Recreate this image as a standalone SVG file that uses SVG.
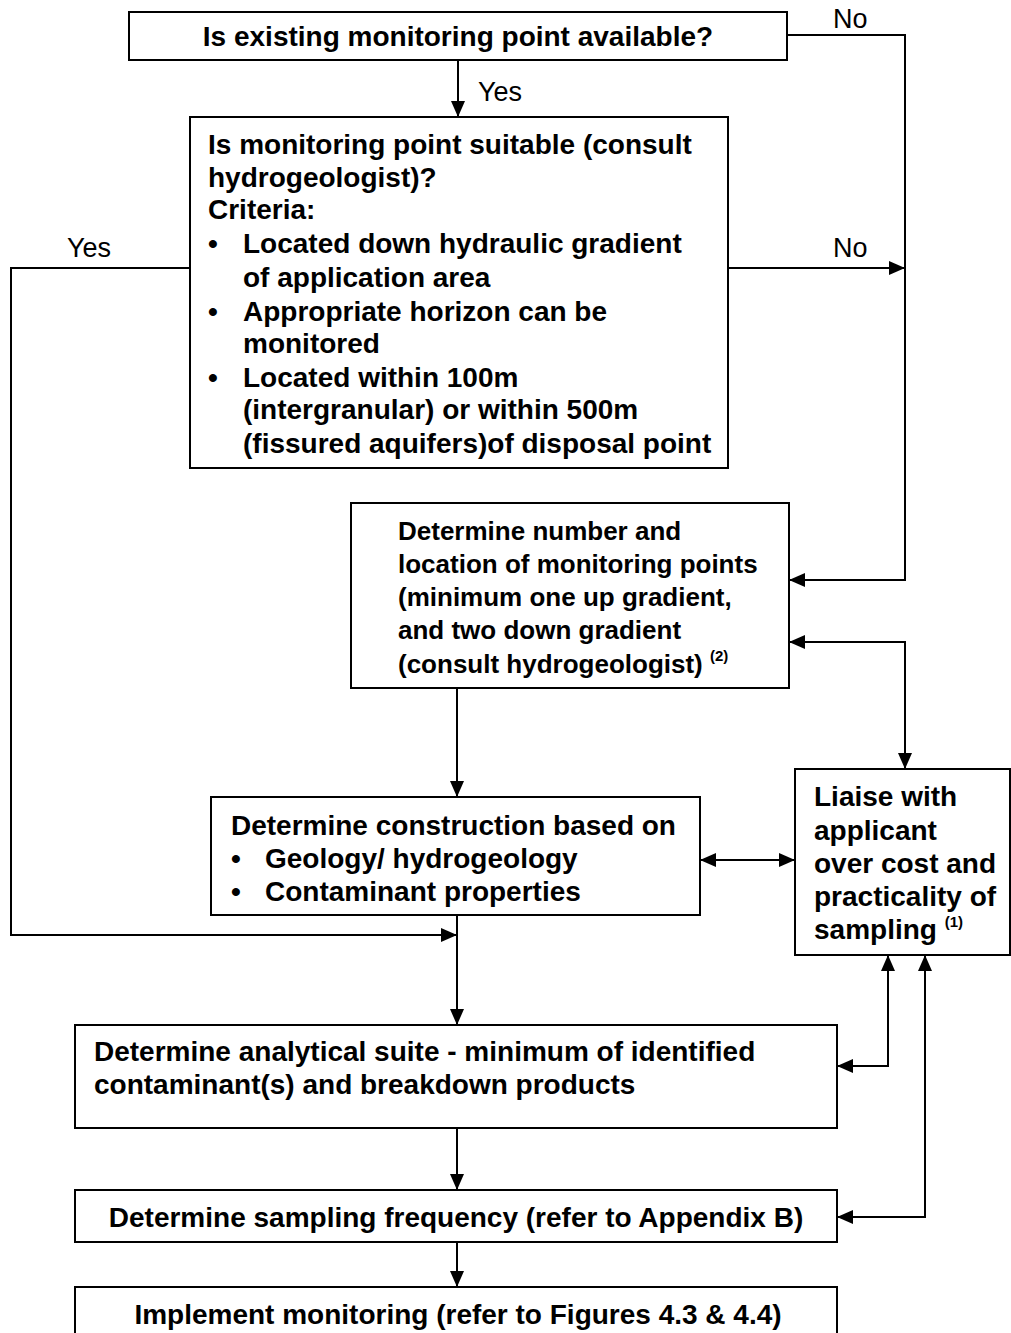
<svg xmlns="http://www.w3.org/2000/svg" width="1011" height="1333" viewBox="0 0 1011 1333">
  <style>
    .box { fill: #fff; stroke: #000; stroke-width: 2; }
    .t { font-family: "Liberation Sans", Arial, sans-serif; font-weight: bold; font-size: 28px; fill: #000; }
    .t.s { font-size: 26px; }
    .lbl { font-family: "Liberation Sans", Arial, sans-serif; font-size: 27px; fill: #000; }
    .sup { font-size: 15px; }
    .wire { fill: none; stroke: #000; stroke-width: 2; }
  </style>
  <defs>
    <marker id="arrow" viewBox="0 0 16 14" refX="16" refY="7" markerWidth="16" markerHeight="14" markerUnits="userSpaceOnUse" orient="auto-start-reverse">
      <path d="M0,0 L16,7 L0,14 Z" fill="#000"/>
    </marker>
  </defs>
  <rect width="1011" height="1333" fill="#fff"/>

  <!-- connectors -->
  <g id="connectors" class="wire">
    <path d="M458,60 L458,117" marker-end="url(#arrow)"/>
    <path d="M787,35 L905,35 L905,580 L789,580" marker-end="url(#arrow)"/>
    <path d="M728,268 L905,268" marker-end="url(#arrow)"/>
    <path d="M190,268 L11,268 L11,935 L457,935" marker-end="url(#arrow)"/>
    <path d="M789,642 L905,642 L905,769" marker-start="url(#arrow)" marker-end="url(#arrow)"/>
    <path d="M457,688 L457,797" marker-end="url(#arrow)"/>
    <path d="M700,860 L795,860" marker-start="url(#arrow)" marker-end="url(#arrow)"/>
    <path d="M457,915 L457,1025" marker-end="url(#arrow)"/>
    <path d="M837,1066 L888,1066 L888,955" marker-start="url(#arrow)" marker-end="url(#arrow)"/>
    <path d="M457,1128 L457,1190" marker-end="url(#arrow)"/>
    <path d="M837,1217 L925,1217 L925,955" marker-start="url(#arrow)" marker-end="url(#arrow)"/>
    <path d="M457,1242 L457,1287" marker-end="url(#arrow)"/>
  </g>

  <!-- edge labels -->
  <g id="labels">
    <text class="lbl" x="478" y="101">Yes</text>
    <text class="lbl" x="833" y="28">No</text>
    <text class="lbl" x="67" y="257">Yes</text>
    <text class="lbl" x="833" y="257">No</text>
  </g>

  <g id="node-existing">
    <rect class="box" x="129" y="12" width="658" height="48"/>
    <text class="t" x="458" y="46" text-anchor="middle">Is existing monitoring point available?</text>
  </g>

  <g id="node-suitable">
    <rect class="box" x="190" y="117" width="538" height="351"/>
    <text class="t" x="208" y="154">Is monitoring point suitable (consult</text>
    <text class="t" x="208" y="187">hydrogeologist)?</text>
    <text class="t" x="208" y="219">Criteria:</text>
    <text class="t" x="208" y="253">•</text>
    <text class="t" x="243" y="253">Located down hydraulic gradient</text>
    <text class="t" x="243" y="287">of application area</text>
    <text class="t" x="208" y="321">•</text>
    <text class="t" x="243" y="321">Appropriate horizon can be</text>
    <text class="t" x="243" y="353">monitored</text>
    <text class="t" x="208" y="387">•</text>
    <text class="t" x="243" y="387">Located within 100m</text>
    <text class="t" x="243" y="419">(intergranular) or within 500m</text>
    <text class="t" x="243" y="453">(fissured aquifers)of disposal point</text>
  </g>

  <g id="node-determine-number">
    <rect class="box" x="351" y="503" width="438" height="185"/>
    <text class="t s" x="398" y="540">Determine number and</text>
    <text class="t s" x="398" y="573">location of monitoring points</text>
    <text class="t s" x="398" y="606">(minimum one up gradient,</text>
    <text class="t s" x="398" y="639">and two down gradient</text>
    <text class="t s" x="398" y="673">(consult hydrogeologist) <tspan class="sup" dy="-12">(2)</tspan></text>
  </g>

  <g id="node-construction">
    <rect class="box" x="211" y="797" width="489" height="118"/>
    <text class="t" x="231" y="835">Determine construction based on</text>
    <text class="t" x="231" y="868">•</text>
    <text class="t" x="265" y="868">Geology/ hydrogeology</text>
    <text class="t" x="231" y="901">•</text>
    <text class="t" x="265" y="901">Contaminant properties</text>
  </g>

  <g id="node-liaise">
    <rect class="box" x="795" y="769" width="215" height="186"/>
    <text class="t" x="814" y="806">Liaise with</text>
    <text class="t" x="814" y="840">applicant</text>
    <text class="t" x="814" y="873">over cost and</text>
    <text class="t" x="814" y="906">practicality of</text>
    <text class="t" x="814" y="939">sampling <tspan class="sup" dy="-12">(1)</tspan></text>
  </g>

  <g id="node-analytical">
    <rect class="box" x="75" y="1025" width="762" height="103"/>
    <text class="t" x="94" y="1061">Determine analytical suite - minimum of identified</text>
    <text class="t" x="94" y="1094">contaminant(s) and breakdown products</text>
  </g>

  <g id="node-frequency">
    <rect class="box" x="75" y="1190" width="762" height="52"/>
    <text class="t" x="456" y="1227" text-anchor="middle">Determine sampling frequency (refer to Appendix B)</text>
  </g>

  <g id="node-implement">
    <rect class="box" x="75" y="1287" width="762" height="60"/>
    <text class="t" x="458" y="1324" text-anchor="middle">Implement monitoring (refer to Figures 4.3 &amp; 4.4)</text>
  </g>
</svg>
